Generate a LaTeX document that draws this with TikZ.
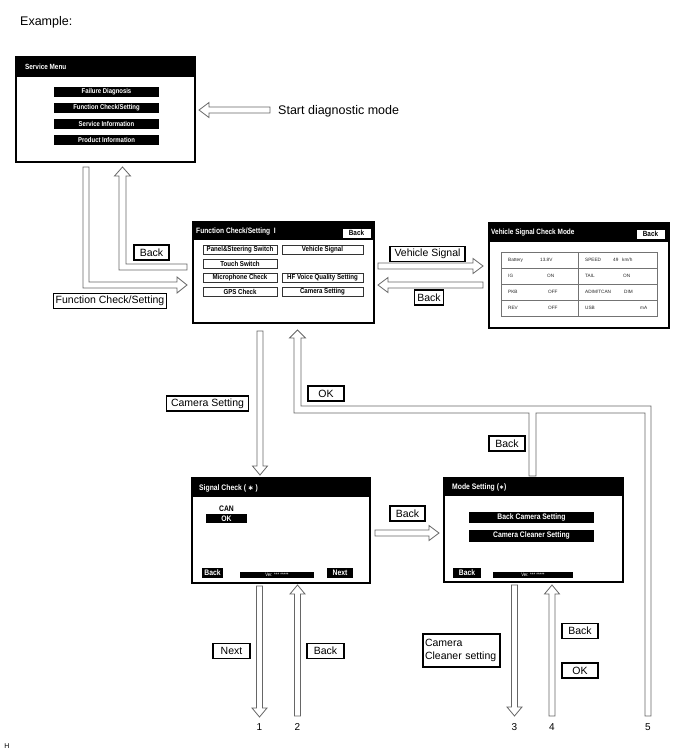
\documentclass[tikz,border=0pt]{standalone}
\usepackage{fontspec}
\setmainfont{Liberation Sans}
\newfontfamily\nar[FakeStretch=0.85]{Liberation Sans}
\newfontfamily\dejavu{DejaVu Sans}
\newcommand\harL[3]{\draw[harrow] (#1,#3) -- (#1+10,#3-7.5) -- (#1+10,#3-3) -- (#2,#3-3) -- (#2,#3+3) -- (#1+10,#3+3) -- (#1+10,#3+7.5) -- cycle;}
\newcommand\harR[3]{\draw[harrow] (#2,#3) -- (#2-10,#3-7.5) -- (#2-10,#3-3) -- (#1,#3-3) -- (#1,#3+3) -- (#2-10,#3+3) -- (#2-10,#3+7.5) -- cycle;}
\newcommand\harD[3]{\draw[harrow] (#1,#3) -- (#1-7.5,#3-9) -- (#1-3,#3-9) -- (#1-3,#2) -- (#1+3,#2) -- (#1+3,#3-9) -- (#1+7.5,#3-9) -- cycle;}
\newcommand\harU[3]{\draw[harrow] (#1,#2) -- (#1-7.5,#2+9) -- (#1-3,#2+9) -- (#1-3,#3) -- (#1+3,#3) -- (#1+3,#2+9) -- (#1+7.5,#2+9) -- cycle;}
\newcommand\nfs[1]{\nar\bfseries\fontsize{#1}{#1}\selectfont}
\tikzset{
 harrow/.style={draw=black!60, line width=0.8pt, fill=white, line join=miter},
 lbl/.style={draw=black, line width=1.1pt, fill=white, inner xsep=4.5pt, inner ysep=0pt, minimum height=15pt, font=\fontsize{10.5}{12}\selectfont},
 scr/.style={draw=black, line width=1.2pt, fill=white},
 ttl/.style={text=white, font=\nfs{7.8}, anchor=west, inner sep=0pt},
 wbtn/.style={draw=black!80, line width=0.7pt, fill=white, font=\nfs{7.2}, inner sep=0pt},
 bbtn/.style={fill=black, text=white, font=\nfs{7}, inner sep=0pt},
 tbl/.style={font=\fontsize{4.7}{5}\selectfont, text=black!85, anchor=west, inner sep=0pt},
 num/.style={font=\fontsize{10}{12}\selectfont, inner sep=0pt},
 big/.style={font=\fontsize{12.5}{14}\selectfont, anchor=west, inner sep=0pt},
}
\begin{document}
\begin{tikzpicture}[x=1pt,y=-1pt]
\useasboundingbox (0,0) rectangle (688,755);
\node[big] (ex) at (20,22) {Example:};
% ---------- Service Menu
\draw[scr] (16,57) rectangle (195,162);
\fill (16,57) rectangle (195,77);
\coordinate (sm) at (105.5,109.5);
\node[ttl, font=\nfs{7.5}] (smt) at (25,67) {Service Menu};
\foreach \t/\y [count=\i] in {{Failure Diagnosis}/92,{Function Check/Setting}/108,{Service Information}/124,{Product Information}/140}
  \node[bbtn, minimum width=105pt, minimum height=10pt] (smb\i) at (106.5,\y) {\t};
\harL{199}{270}{110}
\node[big] (sdm) at (278,111) {Start diagnostic mode};
% ---------- Function Check/Setting
\draw[scr] (193,222) rectangle (374,323);
\fill (193,222) rectangle (374,240);
\node[ttl] (fct) at (196,231) {Function Check/Setting\ \ I};
\node[wbtn, draw=black, minimum width=29pt, minimum height=10pt, font=\nfs{7.5}] (fcback) at (356.5,233) {Back};
\node[wbtn, minimum width=74pt, minimum height=9pt] (f1) at (240,250) {Panel\&Steering Switch};
\node[wbtn, minimum width=81pt, minimum height=9pt] (f2) at (322.5,250) {Vehicle Signal};
\node[wbtn, minimum width=74pt, minimum height=9pt] (f3) at (240,264) {Touch Switch};
\node[wbtn, minimum width=74pt, minimum height=9pt] (f4) at (240,278) {Microphone Check};
\node[wbtn, minimum width=81pt, minimum height=9pt] (f5) at (322.5,278) {HF Voice Quality Setting};
\node[wbtn, minimum width=74pt, minimum height=9pt] (f6) at (240,292) {GPS Check};
\node[wbtn, minimum width=81pt, minimum height=9pt] (f7) at (322.5,292) {Camera Setting};
% L arrows
\draw[harrow] (83,167) -- (89,167) -- (89,282) -- (177,282) -- (177,277) -- (187,285) -- (177,293) -- (177,288) -- (83,288) -- cycle;
\draw[harrow] (187,264) -- (126,264) -- (126,176) -- (130.5,176) -- (122.5,167) -- (114.5,176) -- (119,176) -- (119,270) -- (187,270) -- cycle;
\node[lbl, minimum width=35pt] (lb1) at (151.5,252.5) {Back};
\node[lbl, inner xsep=2.5pt] (lfc) at (110,301) {Function Check/Setting};
% ---------- Vehicle Signal Check Mode
\harR{378}{483}{266}
\harL{378}{483}{285}
\node[lbl] (lvs) at (427.5,254) {Vehicle Signal};
\node[lbl, minimum width=29pt, inner xsep=2pt] (lb2) at (429,297.5) {Back};
\draw[scr] (489,223) rectangle (669,328);
\fill (489,223) rectangle (669,242);
\node[ttl, font=\nfs{7.6}] (vst) at (491,233) {Vehicle Signal Check Mode};
\node[wbtn, draw=black, minimum width=29pt, minimum height=10pt, font=\nfs{7.5}] (vsback) at (650.5,234) {Back};
\draw[black!55, line width=0.6pt] (501,252) rectangle (657,316) (578,252) -- (578,316)
  (501,268) -- (657,268) (501,284) -- (657,284) (501,300) -- (657,300);
\node[tbl] at (508,260) {Battery}; \node[tbl] at (540,260) {13.8V};
\node[tbl] at (585,260) {SPEED}; \node[tbl] at (613,260) {49}; \node[tbl] at (622,260) {km/h};
\node[tbl] at (508,276) {IG}; \node[tbl] at (547,276) {ON};
\node[tbl] at (585,276) {TAIL}; \node[tbl] at (623,276) {ON};
\node[tbl] at (508,292) {PKB}; \node[tbl] at (548,292) {OFF};
\node[tbl] at (585,292) {ADIM/TCAN}; \node[tbl] at (624,292) {DIM};
\node[tbl] at (508,308) {REV}; \node[tbl] at (548,308) {OFF};
\node[tbl] at (585,308) {USB}; \node[tbl] at (640,308) {mA};
% ---------- Camera setting down arrow
\harD{260}{331}{475}
\node[lbl] (lcs) at (207.5,403.5) {Camera Setting};
% ---------- OK / Back combined path
\draw[harrow] (294,413) -- (294,338) -- (289.5,338) -- (297.5,330) -- (305.5,338) -- (301,338) -- (301,406) -- (651,406) -- (651,716) -- (645,716) -- (645,413) -- (536,413) -- (536,476) -- (529,476) -- (529,413) -- cycle;
\node[lbl, minimum width=36pt] (lok) at (326,393.5) {OK};
\node[lbl, minimum width=36pt] (lb3) at (507,443.5) {Back};
% ---------- Signal Check
\draw[scr] (192,478) rectangle (370,583);
\fill (192,478) rectangle (370,497);
\node[ttl, font=\nfs{8}] (sct) at (199,488) {Signal Check ( {\dejavu\fontsize{7}{7}\selectfont ∗} )};
\node[font=\nfs{8}, inner sep=0pt] (can) at (226.5,508.5) {CAN};
\node[bbtn, minimum width=41pt, minimum height=9pt, font=\nfs{8}] (cok) at (226.5,518.5) {OK};
\node[bbtn, minimum width=21pt, minimum height=10pt, font=\nfs{8}] (scb) at (212.5,573) {Back};
\node[bbtn, minimum width=74pt, minimum height=6pt, font=\nar\fontsize{5}{5}\selectfont] (scv) at (277,575) {Ver. *** *****};
\node[bbtn, minimum width=26pt, minimum height=10pt, font=\nfs{8}] (scn) at (340,573) {Next};
\harR{375}{439}{533}
\node[lbl, minimum width=35pt] (lb4) at (407.5,513.5) {Back};
% ---------- Mode Setting
\draw[scr] (444,478) rectangle (623,582);
\fill (444,478) rectangle (623,496);
\node[ttl, font=\nfs{8}] (mst) at (452,487) {Mode Setting ({\dejavu\fontsize{6}{6}\selectfont ∗})};
\node[bbtn, minimum width=125pt, minimum height=11pt, font=\nfs{8}] (ms1) at (531.5,517.5) {Back Camera Setting};
\node[bbtn, minimum width=125pt, minimum height=12pt, font=\nfs{8}] (ms2) at (531.5,535.5) {Camera Cleaner Setting};
\node[bbtn, minimum width=28pt, minimum height=10pt, font=\nfs{8}] (msb) at (467,573) {Back};
\node[bbtn, minimum width=80pt, minimum height=6pt, font=\nar\fontsize{5}{5}\selectfont] (msv) at (533,575) {Ver. *** *****};
% ---------- bottom arrows
\harD{259.5}{586}{717}
\harU{297.5}{585}{716}
\harD{514.5}{585}{716}
\harU{552}{585}{716}
\node[lbl, minimum width=37pt] (lnx) at (231.5,651) {Next};
\node[lbl, minimum width=37pt] (lb5) at (325.5,651) {Back};
\node[lbl, align=left, minimum width=77pt, minimum height=33pt, inner xsep=2pt, font=\fontsize{10.5}{13}\selectfont, text width=73pt] (lcc) at (461.5,650.5) {Camera\\Cleaner setting};
\node[lbl, minimum width=36pt] (lb6) at (580,631) {Back};
\node[lbl, minimum width=36pt] (lok2) at (580,670.5) {OK};
\node[num] (n1) at (259.5,727) {1};
\node[num] (n2) at (297.5,727) {2};
\node[num] (n3) at (514.5,727) {3};
\node[num] (n4) at (552,727) {4};
\node[num] (n5) at (648,727) {5};
\node[font=\fontsize{7}{8}\selectfont, inner sep=0pt] (hh) at (7,746) {H};
\end{tikzpicture}
\end{document}
